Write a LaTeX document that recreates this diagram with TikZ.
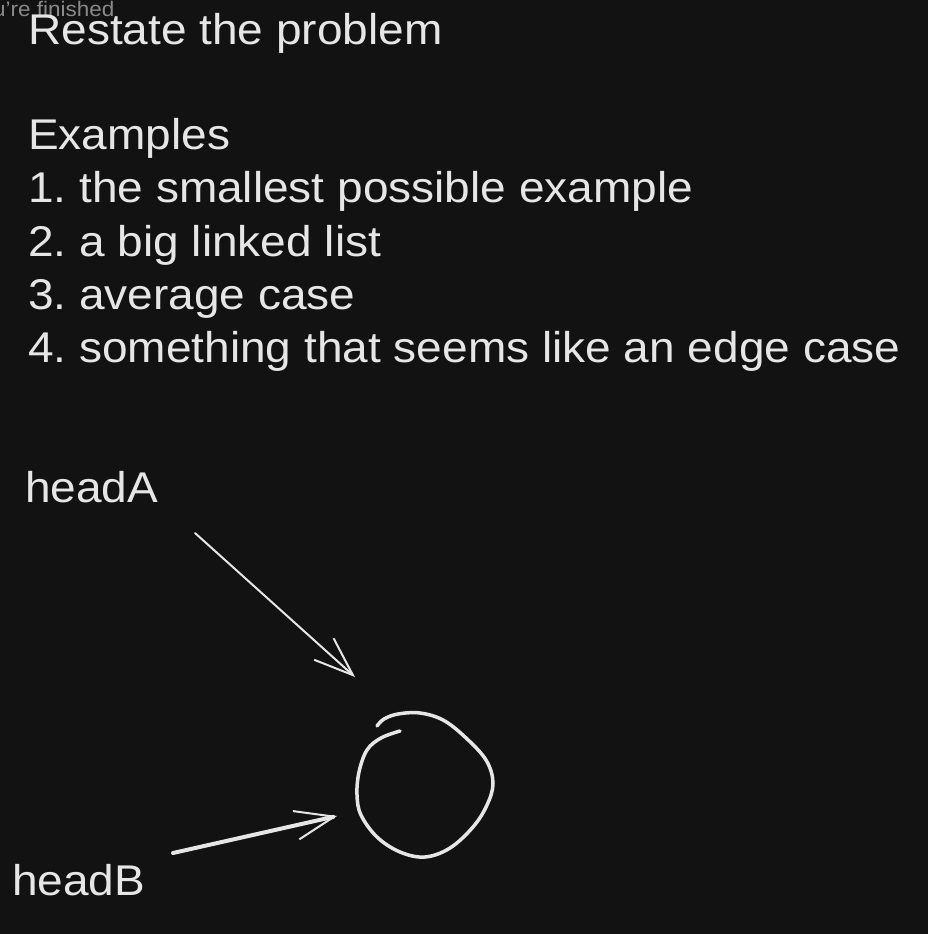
\documentclass[tikz,border=0pt]{standalone}
\usepackage{fontspec}
\setmainfont{Liberation Sans}[FakeStretch=1.07]
\usetikzlibrary{arrows.meta}
\definecolor{bg}{HTML}{121212}
\definecolor{ink}{HTML}{E6E6E6}
\definecolor{faint}{HTML}{8A8A8A}
\frenchspacing
\begin{document}
\begin{tikzpicture}[x=1pt,y=-1pt,
  txt/.style={anchor=base west,inner sep=0pt,text=ink,font=\fontsize{43}{53}\selectfont},
  small/.style={anchor=base west,inner sep=0pt,text=faint,font=\fontsize{21}{24}\selectfont},
  barb/.style={-{Straight Barb[length=39pt,width=29pt,line width=2pt]}},
  shaftA/.style={draw=ink,line width=2pt,line cap=round,barb},
  shaftB/.style={draw=ink,line width=4pt,line cap=round,barb},
  loop/.style={draw=ink,line width=3.5pt,line cap=round}]
\useasboundingbox[fill=bg] (0,0) rectangle (928,934);
\node[small] (fin) at (-7,17) {u're finished};
\node[txt] (l0) at (28,45) {Restate the problem};
\node[txt] (l2) at (28,149.6) {Examples};
\node[txt] (l3) at (28,202.9) {1. the smallest possible example};
\node[txt] (l4) at (28,256.2) {2. a big linked list};
\node[txt] (l5) at (28,309.5) {3. average case};
\node[txt] (l6) at (28,362.8) {4. something that seems like an edge case};
\node[txt] (ha) at (25,502) {headA};
\node[txt] (hb) at (12,895) {headB};
\coordinate (aS) at (195,533);
\coordinate (aT) at (355,677);
\coordinate (bS) at (173,853);
\coordinate (bT) at (337,816);
\draw[shaftA] (aS) -- (aT);
\draw[shaftB] (bS) -- (bT);
\draw[loop] plot[smooth,tension=0.6] coordinates {(400,731) (381,738) (367,750) (359,772) (357,795) (361,815) (377,837) (400,852) (425,857) (450,848) (473,827) (487,805) (493,783) (486,760) (465,737) (443,720) (420,713) (398,714) (384,719) (377,726)};
\end{tikzpicture}
\end{document}
